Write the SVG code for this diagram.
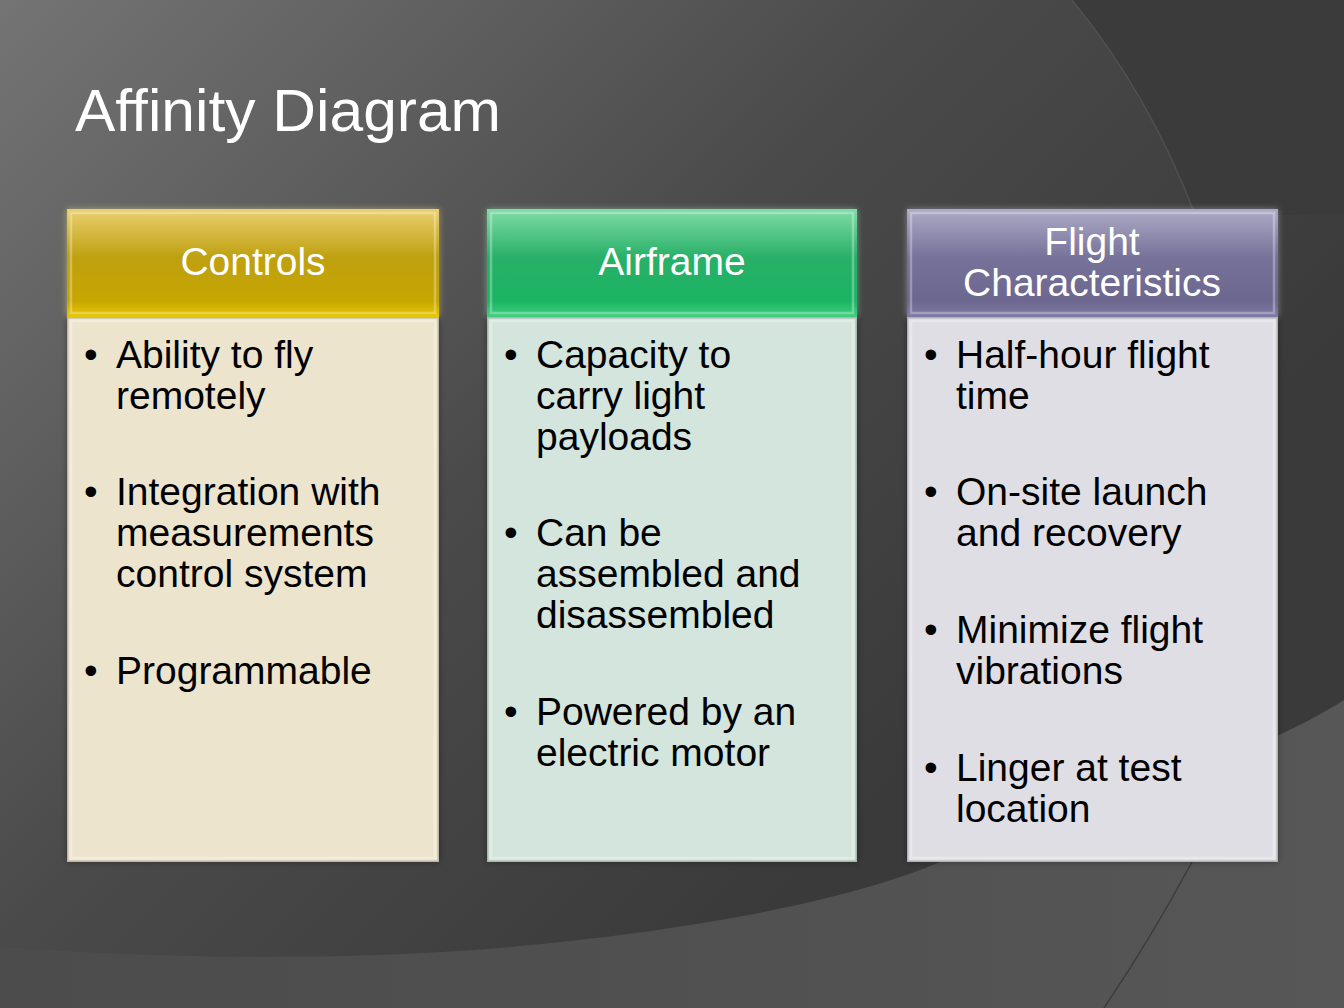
<svg xmlns="http://www.w3.org/2000/svg" width="1344" height="1008" viewBox="0 0 1344 1008">
<defs>
<linearGradient id="bg" x1="0" y1="0" x2="1" y2="0.75">
<stop offset="0" stop-color="#747474"/>
<stop offset="0.45" stop-color="#4a4a4a"/>
<stop offset="0.8" stop-color="#3a3a3a"/>
<stop offset="1" stop-color="#3a3a3a"/>
</linearGradient>
<linearGradient id="swoosh" x1="0" y1="0" x2="1" y2="0">
<stop offset="0" stop-color="#4c4c4c"/>
<stop offset="0.5" stop-color="#505050"/>
<stop offset="1" stop-color="#575757"/>
</linearGradient>
<linearGradient id="hY" x1="0" y1="0" x2="0" y2="1">
<stop offset="0" stop-color="#ead070"/>
<stop offset="0.45" stop-color="#bfa010"/>
<stop offset="0.85" stop-color="#c6a600"/>
<stop offset="1" stop-color="#e8c800"/>
</linearGradient>
<linearGradient id="hG" x1="0" y1="0" x2="0" y2="1">
<stop offset="0" stop-color="#80dca6"/>
<stop offset="0.45" stop-color="#28b068"/>
<stop offset="0.85" stop-color="#1bb462"/>
<stop offset="1" stop-color="#40d080"/>
</linearGradient>
<linearGradient id="hP" x1="0" y1="0" x2="0" y2="1">
<stop offset="0" stop-color="#aeabc6"/>
<stop offset="0.45" stop-color="#76729a"/>
<stop offset="0.85" stop-color="#6b678f"/>
<stop offset="1" stop-color="#7f7ba4"/>
</linearGradient>
<filter id="glow" x="-5%" y="-5%" width="110%" height="110%">
<feGaussianBlur stdDeviation="3"/>
</filter>
</defs>
<style>
.title{font-family:"Liberation Sans",Arial,sans-serif;font-size:60px;fill:#ffffff}
.head{font-family:"Liberation Sans",Arial,sans-serif;font-size:39px;fill:#ffffff;text-anchor:middle}
.body{font-family:"Liberation Sans",Arial,sans-serif;font-size:39px;fill:#000000}
.bev{fill:none;stroke:#ffffff;stroke-opacity:0.3;stroke-width:2.5}
.edge{fill:none;stroke:#000000;stroke-opacity:0.2;stroke-width:1.5}
</style>
<g id="background">
<rect x="0" y="0" width="1344" height="1008" fill="url(#bg)"/>
<path d="M1072,0 Q1150,95 1195,215 L1344,215 L1344,0 Z" fill="#3b3b3b"/>
<path d="M1072,0 Q1150,95 1195,215" fill="none" stroke="#5a5a5a" stroke-width="1.5" stroke-opacity="0.6"/>
<path d="M0,947 C150,958 330,962 500,948 C700,930 850,900 940,862 C1100,800 1250,760 1344,700 L1344,1008 L0,1008 Z" fill="url(#swoosh)"/>
<path d="M1192,862 Q1150,940 1104,1008" fill="none" stroke="#3c3c3c" stroke-width="1.5"/>
</g>
<text class="title" x="75" y="131" textLength="426" lengthAdjust="spacingAndGlyphs">Affinity Diagram</text>
<g id="controls">
<rect x="67" y="209" width="372" height="108" fill="#f3de80" opacity="0.5" filter="url(#glow)"/>
<rect x="67" y="317" width="372" height="545" fill="#000" opacity="0.35" filter="url(#glow)"/>
<rect x="67" y="209" width="372" height="108" fill="url(#hY)"/>
<rect x="71" y="213" width="364" height="100" class="bev"/>
<rect x="67" y="317" width="372" height="545" fill="#ede4cd"/>
<rect x="71" y="321" width="364" height="537" class="bev"/>
<rect x="67.75" y="317.75" width="370.5" height="543.5" class="edge"/>
<text class="head" x="253" y="275">Controls</text>
<text class="body"><tspan x="84" y="368">•</tspan><tspan x="116" y="368">Ability to fly</tspan><tspan x="116" y="409">remotely</tspan><tspan x="84" y="505">•</tspan><tspan x="116" y="505">Integration with</tspan><tspan x="116" y="546">measurements</tspan><tspan x="116" y="587">control system</tspan><tspan x="84" y="684">•</tspan><tspan x="116" y="684">Programmable</tspan></text>
</g>
<g id="airframe">
<rect x="487" y="209" width="370" height="108" fill="#8fe8b4" opacity="0.5" filter="url(#glow)"/>
<rect x="487" y="317" width="370" height="545" fill="#000" opacity="0.35" filter="url(#glow)"/>
<rect x="487" y="209" width="370" height="108" fill="url(#hG)"/>
<rect x="491" y="213" width="362" height="100" class="bev"/>
<rect x="487" y="317" width="370" height="545" fill="#d3e5dc"/>
<rect x="491" y="321" width="362" height="537" class="bev"/>
<rect x="487.75" y="317.75" width="368.5" height="543.5" class="edge"/>
<text class="head" x="672" y="275">Airframe</text>
<text class="body"><tspan x="504" y="368">•</tspan><tspan x="536" y="368">Capacity to</tspan><tspan x="536" y="409">carry light</tspan><tspan x="536" y="450">payloads</tspan><tspan x="504" y="546">•</tspan><tspan x="536" y="546">Can be</tspan><tspan x="536" y="587">assembled and</tspan><tspan x="536" y="628">disassembled</tspan><tspan x="504" y="725">•</tspan><tspan x="536" y="725">Powered by an</tspan><tspan x="536" y="766">electric motor</tspan></text>
</g>
<g id="flight-characteristics">
<rect x="907" y="209" width="371" height="108" fill="#c0bdd6" opacity="0.5" filter="url(#glow)"/>
<rect x="907" y="317" width="371" height="545" fill="#000" opacity="0.35" filter="url(#glow)"/>
<rect x="907" y="209" width="371" height="108" fill="url(#hP)"/>
<rect x="911" y="213" width="363" height="100" class="bev"/>
<rect x="907" y="317" width="371" height="545" fill="#dfdee4"/>
<rect x="911" y="321" width="363" height="537" class="bev"/>
<rect x="907.75" y="317.75" width="369.5" height="543.5" class="edge"/>
<text class="head" x="1092" y="255">Flight</text>
<text class="head" x="1092" y="296">Characteristics</text>
<text class="body"><tspan x="924" y="368">•</tspan><tspan x="956" y="368">Half-hour flight</tspan><tspan x="956" y="409">time</tspan><tspan x="924" y="505">•</tspan><tspan x="956" y="505">On-site launch</tspan><tspan x="956" y="546">and recovery</tspan><tspan x="924" y="643">•</tspan><tspan x="956" y="643">Minimize flight</tspan><tspan x="956" y="684">vibrations</tspan><tspan x="924" y="781">•</tspan><tspan x="956" y="781">Linger at test</tspan><tspan x="956" y="822">location</tspan></text>
</g>
<g id="connectors"/>
</svg>
